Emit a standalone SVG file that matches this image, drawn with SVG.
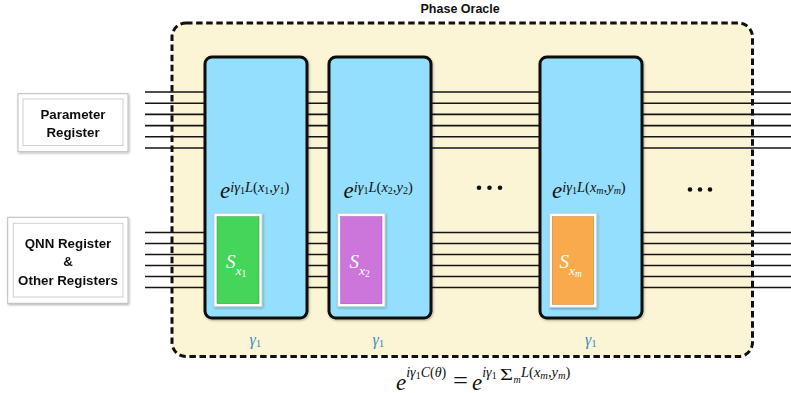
<svg xmlns="http://www.w3.org/2000/svg" width="791" height="393" viewBox="0 0 791 393">
<style>
.lbl{font-family:"Liberation Sans",Arial,sans-serif;font-weight:bold;font-size:13.3px;fill:#111;text-anchor:middle}
.title{font-family:"Liberation Sans",Arial,sans-serif;font-weight:bold;font-size:12.5px;fill:#111}
.m{font-family:"Liberation Serif","Times New Roman",serif;font-style:italic;fill:#111}
.up{font-style:normal}
.big{font-size:23px}
.sup{font-size:14.5px}
.ss{font-size:10px;font-style:normal}
.ssi{font-size:10px}
.wire{stroke:#151515;stroke-width:1.6;fill:none}
.gate{fill:#93dffd;stroke:#111;stroke-width:3}
.frame{fill:#fff;stroke:#c8c8c8;stroke-width:0.8}
.reg{fill:#fff;stroke:#bdbdbd;stroke-width:1}
.regin{fill:none;stroke:#cfcfcf;stroke-width:1}
.S{fill:#fff}
.g{fill:#3a8cc6}
.dot{fill:#111}
</style>
<defs>
<filter id="sh" x="-10%" y="-10%" width="130%" height="130%">
<feDropShadow dx="0.8" dy="1.2" stdDeviation="1" flood-color="#000" flood-opacity="0.3"/>
</filter>
</defs>

<g id="oracle-bg">
<rect x="172" y="23" width="580.5" height="333.5" rx="14" fill="#fcf5d5"/>
</g>

<g id="connectors">
<g class="wire">
<path d="M145 92H791M145 103.2H791M145 114.4H791M145 125.6H791M145 136.8H791M145 148H791"/>
<path d="M145 232.5H791M145 243.5H791M145 254.5H791M145 265.5H791M145 276.5H791M145 287.5H791"/>
</g>
</g>

<g id="oracle">
<rect x="172" y="23" width="580.5" height="333.5" rx="14" fill="none" stroke="#111" stroke-width="3" stroke-dasharray="6.5 3.6"/>
<text class="title" x="420.5" y="12.5">Phase Oracle</text>
</g>

<g id="param-register" filter="url(#sh)">
<rect class="reg" x="18" y="93.7" width="110" height="58"/>
<rect class="regin" x="23" y="99" width="100" height="46.5"/>
<text class="lbl" x="73" y="119.3">Parameter</text>
<text class="lbl" x="73" y="137">Register</text>
</g>

<g id="qnn-register" filter="url(#sh)">
<rect class="reg" x="7.7" y="217.3" width="120.3" height="86"/>
<rect class="regin" x="13.3" y="223.3" width="109.7" height="73.7"/>
<text class="lbl" x="68" y="248.3">QNN Register</text>
<text class="lbl" x="68" y="266">&amp;</text>
<text class="lbl" x="68" y="285">Other Registers</text>
</g>

<g id="gate-1">
<rect class="gate" x="205" y="57" width="102" height="261" rx="7" filter="url(#sh)"/>
<text class="m" x="220" y="198"><tspan class="big">e</tspan><tspan class="sup" y="191.7">iγ</tspan><tspan class="ss" y="194.3">1</tspan><tspan class="sup" y="191.7">L</tspan><tspan class="sup up">(</tspan><tspan class="sup">x</tspan><tspan class="ss" y="194.3">1</tspan><tspan class="sup up" y="191.7">,</tspan><tspan class="sup">y</tspan><tspan class="ss" y="194.3">1</tspan><tspan class="sup up" y="191.7">)</tspan></text>
<rect class="frame" x="214" y="213.3" width="48" height="93.4" filter="url(#sh)"/>
<rect x="217" y="216.7" width="42" height="87" fill="#45d55b" stroke="#2a9a3a" stroke-width="0.5"/>
<text class="m S" x="226" y="268"><tspan font-size="19">S</tspan><tspan font-size="13.5" y="275">x</tspan><tspan font-size="9.5" font-style="normal" y="277">1</tspan></text>
<text class="m g" x="249.5" y="344.5"><tspan font-size="16">γ</tspan><tspan font-size="11" font-style="normal" y="346.7">1</tspan></text>
</g>

<g id="gate-2">
<rect class="gate" x="329" y="57" width="102" height="261" rx="7" filter="url(#sh)"/>
<text class="m" x="343.5" y="198"><tspan class="big">e</tspan><tspan class="sup" y="191.7">iγ</tspan><tspan class="ss" y="194.3">1</tspan><tspan class="sup" y="191.7">L</tspan><tspan class="sup up">(</tspan><tspan class="sup">x</tspan><tspan class="ss" y="194.3">2</tspan><tspan class="sup up" y="191.7">,</tspan><tspan class="sup">y</tspan><tspan class="ss" y="194.3">2</tspan><tspan class="sup up" y="191.7">)</tspan></text>
<rect class="frame" x="337.7" y="213.3" width="47.3" height="93.4" filter="url(#sh)"/>
<rect x="340.7" y="216.7" width="41.3" height="87" fill="#cc76dc" stroke="#9a4aa8" stroke-width="0.5"/>
<text class="m S" x="349.5" y="268"><tspan font-size="19">S</tspan><tspan font-size="13.5" y="275">x</tspan><tspan font-size="9.5" font-style="normal" y="277">2</tspan></text>
<text class="m g" x="372.5" y="344.5"><tspan font-size="16">γ</tspan><tspan font-size="11" font-style="normal" y="346.7">1</tspan></text>
</g>

<g id="dots-1">
<circle class="dot" cx="479" cy="187.7" r="2.3"/>
<circle class="dot" cx="489.5" cy="187.7" r="2.3"/>
<circle class="dot" cx="500" cy="187.7" r="2.3"/>
</g>

<g id="gate-m">
<rect class="gate" x="540" y="57" width="102" height="261" rx="7" filter="url(#sh)"/>
<text class="m" x="552" y="198"><tspan class="big">e</tspan><tspan class="sup" y="191.7">iγ</tspan><tspan class="ss" y="194.3">1</tspan><tspan class="sup" y="191.7">L</tspan><tspan class="sup up">(</tspan><tspan class="sup">x</tspan><tspan class="ssi" y="194.3">m</tspan><tspan class="sup up" y="191.7">,</tspan><tspan class="sup">y</tspan><tspan class="ssi" y="194.3">m</tspan><tspan class="sup up" y="191.7">)</tspan></text>
<rect class="frame" x="549.3" y="213.3" width="47.4" height="94" filter="url(#sh)"/>
<rect x="552.3" y="216.7" width="41.4" height="87.6" fill="#f9aa4c" stroke="#c07a28" stroke-width="0.5"/>
<text class="m S" x="559.5" y="268"><tspan font-size="19">S</tspan><tspan font-size="13.5" y="275">x</tspan><tspan font-size="9.5" y="277">m</tspan></text>
<text class="m g" x="585" y="344.5"><tspan font-size="16">γ</tspan><tspan font-size="11" font-style="normal" y="346.7">1</tspan></text>
</g>

<g id="dots-2">
<circle class="dot" cx="690" cy="189.5" r="2.3"/>
<circle class="dot" cx="700" cy="189.5" r="2.3"/>
<circle class="dot" cx="710" cy="189.5" r="2.3"/>
</g>

<g id="total-formula">
<text class="m" x="396" y="389.5"><tspan font-size="23">e</tspan><tspan font-size="14" y="376.5">iγ</tspan><tspan font-size="10" font-style="normal" y="379">1</tspan><tspan font-size="14" y="376.5">C</tspan><tspan font-size="14" font-style="normal">(</tspan><tspan font-size="14">θ</tspan><tspan font-size="14" font-style="normal">)</tspan></text>
<text class="m up" x="453" y="387.5" font-size="24" textLength="15" lengthAdjust="spacingAndGlyphs">=</text>
<text class="m" x="472" y="389.5"><tspan font-size="23">e</tspan><tspan font-size="14" y="376.5">iγ</tspan><tspan font-size="10" font-style="normal" y="379">1</tspan></text>
<text class="m up" x="500" y="379.5" font-size="16" textLength="13" lengthAdjust="spacingAndGlyphs">Σ</text>
<text class="m" x="513.5" y="383" font-size="10">m</text>
<text class="m" x="521" y="376.5"><tspan font-size="14.5">L</tspan><tspan font-size="14.5" font-style="normal">(</tspan><tspan font-size="14.5">x</tspan><tspan font-size="10.5" y="379">m</tspan><tspan font-size="14.5" font-style="normal" y="376.5">,</tspan><tspan font-size="14.5">y</tspan><tspan font-size="10.5" y="379">m</tspan><tspan font-size="14.5" font-style="normal" y="376.5">)</tspan></text>
</g>
</svg>
